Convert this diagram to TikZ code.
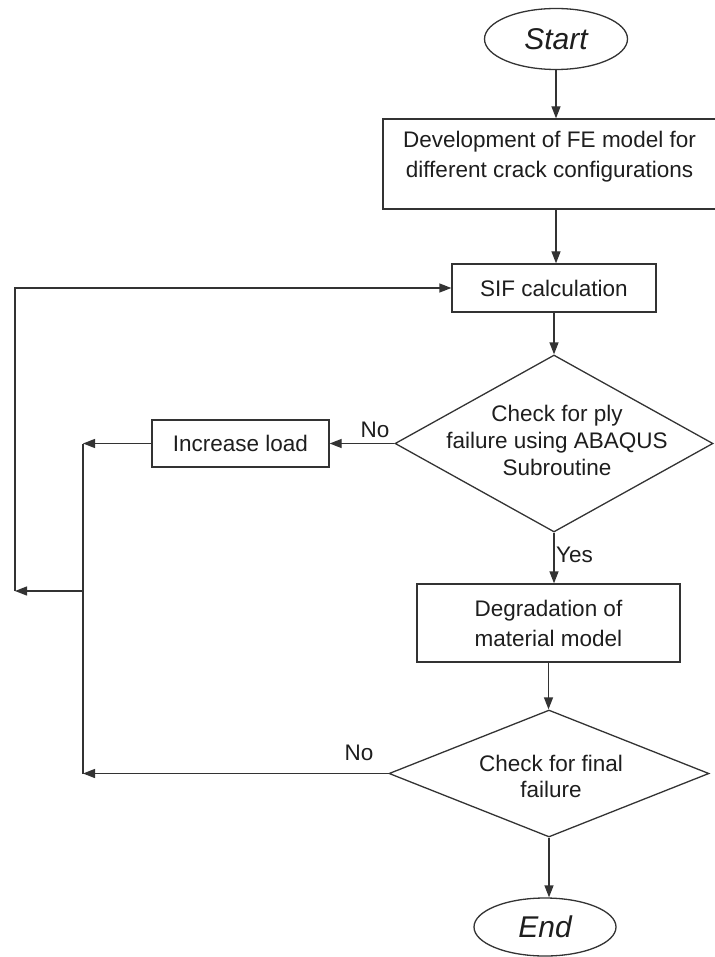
\documentclass[tikz,border=0pt]{standalone}
\usepackage{fontspec}
\setmainfont{Liberation Sans}
\usetikzlibrary{shapes.geometric,arrows.meta}
\definecolor{ln}{HTML}{333333}
\definecolor{tx}{HTML}{1E1E1E}
\begin{document}
\begin{tikzpicture}[x=1pt,y=-1pt,
  txt/.style={text=tx, inner sep=0pt, align=center, font=\fontsize{22.5}{27}\selectfont},
  box/.style={draw=ln, line width=1.3pt, rectangle, inner sep=0pt, text=tx, align=center, font=\fontsize{22.5}{30}\selectfont},
  term/.style={draw=ln, line width=1.3pt, ellipse, inner sep=0pt, text=tx, font=\fontsize{30}{32}\selectfont\itshape},
  dia/.style={draw=ln, line width=1.3pt, diamond, inner sep=0pt},
  lbl/.style={text=tx, inner sep=0pt, font=\fontsize{22.5}{27}\selectfont},
  conn/.style={draw=ln, line width=1.3pt},
  arr/.style={conn, -{Triangle[length=12pt,width=9pt]}}]
\useasboundingbox (0,0) rectangle (714,957);
\fill[white] (0,0) rectangle (714,957);

\node[term, minimum width=143pt, minimum height=61pt] (start) at (556,39) {Start};
\node[box, minimum width=333pt, minimum height=90pt] (fe) at (549.5,164) {};
\node[txt, font=\fontsize{22.5}{30}\selectfont] (fetext) at (549.5,157) {Development of FE model for\\different crack configurations};
\node[box, minimum width=204pt, minimum height=48pt] (sif) at (554,288) {SIF calculation};
\node[dia, minimum width=318pt, minimum height=177pt] (d1) at (554,443.5) {};
\node[txt] (d1text) at (557,440) {Check for ply\\failure using ABAQUS\\Subroutine};
\node[box, minimum width=177pt, minimum height=47pt] (inc) at (240.5,443.5) {Increase load};
\node[box, minimum width=263pt, minimum height=78pt] (deg) at (548.5,623) {Degradation of\\material model};
\node[dia, minimum width=320pt, minimum height=127pt] (d2) at (549,773.5) {};
\node[txt, font=\fontsize{22.5}{26}\selectfont] (d2text) at (551,776) {Check for final\\failure};
\node[term, minimum width=142pt, minimum height=58pt] (end) at (545,927) {End};

\node[lbl] (no1) at (375,430) {No};
\node[lbl] (no2) at (359,753) {No};
\node[lbl, anchor=west] (yes) at (556,555) {Yes};

\coordinate (j1) at (83,443.5);
\coordinate (j2) at (83,773.5);
\coordinate (jm) at (83,591);
\coordinate (jl) at (15,591);

\draw[arr] (start.south) -- (start.south |- fe.north);
\draw[arr] (start.south |- fe.south) -- (start.south |- sif.north);
\draw[arr] (sif.south) -- (d1.north);
\draw[arr] (d1.south) -- (d1.south |- deg.north);
\draw[arr] (deg.south) -- (deg.south |- d2.north);
\draw[arr] (d2.south) -- (d2.south |- end.north);
\draw[arr] (d1.west) -- (inc.east);
\draw[arr] (inc.west) -- (j1);
\draw[arr] (d2.west) -- (j2);
\draw[conn] (j1) -- (j2);
\draw[arr] (jm) -- (jl);
\draw[arr] (jl) |- (sif.west);
\end{tikzpicture}
\end{document}
